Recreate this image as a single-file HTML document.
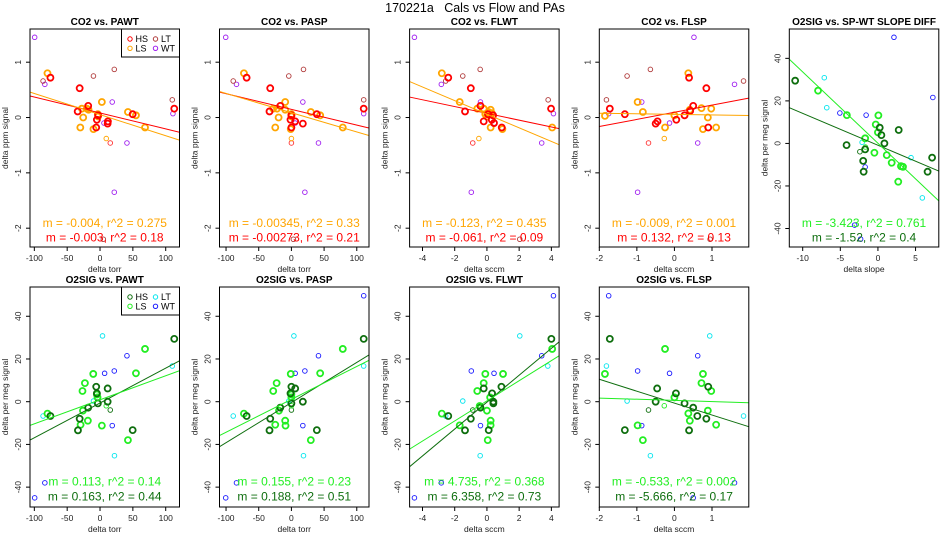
<!DOCTYPE html>
<html><head><meta charset="utf-8"><style>
body{margin:0;background:#fff;}
svg{display:block;font-family:"Liberation Sans",sans-serif;}
</style></head><body>
<svg id="chart" width="950" height="550" viewBox="0 0 950 550" xmlns="http://www.w3.org/2000/svg">
<rect width="950" height="550" fill="#fff"/>
<text x="475" y="12" text-anchor="middle" font-size="12.5" style="white-space:pre" xml:space="preserve">170221a   Cals vs Flow and PAs</text>
</svg>
<script>
// ---- data ----
const co2PawtX=[-99.5,-84,18.6,6,111,41,21.7,-86.7,-10,21.7,110,5,15.6,9.5,-80,2.8,-27.7,-20,-17.5,-25.6,-30,-10,-3.3,-3,42.5,54.7,68.5,-75.5,-31,-34,-18,-4.8,-5.8,12,11.6,49.7,113,-2.8];
const co2PawtY=[1.45,0.6,0.28,-0.1,0.07,-0.46,-1.35,0.66,0.75,0.87,0.32,-2.2,-0.46,-0.38,0.8,0.28,0.16,0.16,0.14,0,-0.18,-0.21,0.06,0.02,0.1,0.04,-0.18,0.72,0.53,0.11,0.21,-0.04,-0.18,-0.07,-0.11,0.06,0.16,0.04];
const co2PawtType=["W","W","W","W","W","W","W","T","T","T","T","T","h","l","L","L","L","L","L","L","L","L","L","L","L","L","L","H","H","H","H","H","H","H","H","H","H","H"];
const co2PaspX=[-100.5,-84,17.5,5.8,110.6,41.4,20.6,-89,-4,18.5,110.6,3,0,0,-72.6,-9.5,-28,-22,-9.5,-19.6,-24.7,-1,0,0,29.7,44,78.6,-68.5,-32.4,-33.5,-17,-1.4,0,5.8,17.5,38.9,110.6,0];
const co2PaspY=co2PawtY.slice();
const co2PaspType=co2PawtType.slice();
const co2FlwtX=[-4.5,-2.83,-0.4,0.46,4.13,3.4,-0.97,-2.56,-1.5,-0.42,3.8,2.04,-0.88,-0.5,-2.8,-1.69,-0.6,-0.2,0.23,0,0.23,0.96,-0.1,0.17,0.1,0.3,4.05,-2.4,-1.0,-1.36,-0.4,0.3,0.92,0.44,-0.2,0.38,3.98,0.07];
const co2FlwtY=[1.45,0.6,0.28,-0.1,0.07,-0.46,-1.35,0.66,0.75,0.87,0.32,-2.2,-0.46,-0.38,0.8,0.28,0.16,0.16,0.14,0.02,-0.18,-0.21,0.06,0.06,0.1,0.08,-0.18,0.72,0.53,0.11,0.21,-0.04,-0.18,-0.1,-0.07,0.04,0.16,0.06];
const co2FlwtType=co2PawtType.slice();
const co2FlspX=[0.52,1.6,-0.87,-0.13,-1.75,0.62,-0.98,-1.26,-0.64,1.84,-1.81,0.95,-0.69,-0.27,0.37,-0.98,0.72,0.98,0.41,0.89,-0.25,0.76,0,-1.85,-0.84,1.11,0.39,0.85,-1.72,0.5,-0.5,-0.45,0.9,0.27,-1.32,0.05,0.42];
const co2FlspY=[1.45,0.6,0.28,-0.1,0.07,-0.46,-1.35,0.75,0.87,0.66,0.32,-2.2,-0.46,-0.38,0.8,0.28,0.17,0.16,0.14,0,-0.18,-0.21,0.04,0.03,0.1,-0.18,0.72,0.53,0.16,0.21,-0.11,-0.07,-0.18,0.04,0.06,-0.04,0.12];
const co2FlspType=["W","W","W","W","W","W","W","T","T","T","T","T","h","l","L","L","L","L","L","L","L","L","L","L","L","L","H","H","H","H","H","H","H","H","H","H","H"];
const o2SlopeX=[2.13,7.3,-5.06,-1.57,-1.7,-3.1,-2.3,-7.13,-6.8,-2.1,4.4,5.9,-2.4,-1.66,-7.96,-4.13,0.06,-0.29,0,-1.7,-0.47,1.17,1.83,3.06,3.33,2.7,-11.0,-4.17,-1.7,-1.96,-1.9,0.24,0.46,0.86,2.76,6.6,7.2];
const o2SlopeY=[49.9,21.6,14.3,13.3,-11.1,-38.4,-45,30.9,16.8,0.5,-6.7,-25.6,-3.9,-1.7,24.8,13.3,13.2,8.9,5.2,2.4,-4.4,-5.5,-9.1,-10.7,-11,-18,29.5,-0.8,-2.8,-8.2,-13.3,7.4,3.9,0,6.3,-13.3,-6.7];
const o2SlopeType=["W","W","W","W","W","W","W","T","T","T","T","T","h","l","L","L","L","L","L","L","L","L","L","L","L","L","H","H","H","H","H","H","H","H","H","H","H"];
const o2PawtX=[-99.5,-84,41,7,21.7,18.6,-86.7,3.8,110,22,-10,15.6,9.5,-80,-10.3,-23,-26.7,-26,-29.6,-18.5,-3.8,2.8,54.7,68.5,42.5,-4.8,-75.5,-31,-33.6,-18,-5.8,-4.8,-3.3,11.6,11.6,49.7,113];
const o2PawtY=[-45,-38,21.5,13.3,14.4,-11.2,-6.7,30.8,16.7,-25.3,0.3,-3.9,-1.9,-5.6,13,8.7,5,-4.2,-10.8,-8.9,2,-11.2,13.3,24.7,-18,3.4,-6.7,-8,-13.4,-2.8,7,3.9,-0.8,6.2,0,-13.3,29.4];
const o2PawtType=["W","W","W","W","W","W","T","T","T","T","T","h","l","L","L","L","L","L","L","L","L","L","L","L","L","L","H","H","H","H","H","H","H","H","H","H","H"];
const o2PaspX=[-100.5,-84,41.4,5.8,20.6,17.5,110.6,-89,3.8,110.6,18.5,-4,0,0,-72.6,-1,-22.6,-27.8,-19,-24.7,-9.5,0,-9,44,78.6,29.7,0,-68.5,-32.4,-33.5,-17,0,-1.4,0,5.8,17.5,38.9,110.6];
const o2PaspY=[-45,-38,21.5,13.3,14.4,-11.2,49.6,-6.7,30.8,16.7,-25.3,0.3,-3.9,-1.9,-5.6,13,8.7,5,-4.2,-10.8,-8.9,2,-11.2,13.3,24.7,-18,3.4,-6.7,-8,-13.4,-2.8,7,3.9,-0.8,6.2,0,-13.3,29.4];
const o2PaspType=["W","W","W","W","W","W","W","T","T","T","T","T","h","l","L","L","L","L","L","L","L","L","L","L","L","L","L","H","H","H","H","H","H","H","H","H","H","H"];
const o2FlwtX=[-4.5,-2.83,3.4,0.44,-0.97,-0.4,4.13,-2.56,2.04,3.78,-0.42,-1.5,-0.88,-0.5,-2.8,-0.1,-0.2,-0.6,-0.45,-1.69,0.23,0.2,0.23,1.0,4.05,0.05,0,-2.4,-1.0,-1.36,-0.4,0.9,0.32,0.4,-0.2,0.4,0.11,4.0];
const o2FlwtY=[-45,-38,21.5,13.3,14.4,-11.2,49.6,-6.7,30.8,16.7,-25.3,0.3,-3.9,-1.9,-5.6,13,8.7,5,-2,-11.1,-8.9,2,-11,13,24.7,-18,-4.2,-6.7,-8,-13.4,-2.8,7,3.9,-0.8,6.2,0,-13.3,29.4];
const o2FlwtType=o2PaspType.slice();
const o2FlspX=[0.5,1.6,0.62,-0.13,-0.98,-0.87,-1.75,1.84,0.94,-1.81,-0.64,-1.26,-0.69,-0.27,-1.85,-0.25,0.72,0.98,0.89,1.11,0.41,0,-0.98,0.76,-0.84,0.37,-1.72,-1.32,-0.46,-0.5,0.04,0.27,0.5,0.61,0.85,0.9,0.39];
const o2FlspY=[-45,-38,21.5,13.3,14.4,-11.2,49.6,-6.7,30.8,16.7,-25.3,0.3,-3.9,-1.9,13,24.7,8.7,5,-4.2,-10.8,-8.9,2,-11.1,13,-18,-5.5,29.4,-13.3,6.2,0,3.9,-0.8,-2.8,-6.7,-8,7,-13.4];
const o2FlspType=["W","W","W","W","W","W","W","T","T","T","T","T","h","l","L","L","L","L","L","L","L","L","L","L","L","L","H","H","H","H","H","H","H","H","H","H","H"];
// fit lines [HS, LS]
const co2PawtSlope=[-0.00288,-0.00382], co2PawtIntercept=[0.083,0.053];
const co2PaspSlope=[-0.00284,-0.00348], co2PaspIntercept=[0.147,0.087];
const co2FlwtSlope=[-0.0614,-0.123], co2FlwtIntercept=[0.075,0.06];
const co2FlspSlope=[0.129,-0.0106], co2FlspIntercept=[0.095,0.057];
const o2SlopeSlope=[-1.5,-3.35], o2SlopeIntercept=[-0.86,0.1];
const o2PawtSlope=[0.163,0.1125], o2PawtIntercept=[-0.6,0.9];
const o2PaspSlope=[0.188,0.154], o2PaspIntercept=[-0.4,1.1];
const o2FlwtSlope=[6.30,4.71], o2FlwtIntercept=[-0.2,0.4];
const o2FlspSlope=[-5.58,-0.55], o2FlspIntercept=[-0.66,0.6];
const torrTicks=[-100,-50,0,50,100], sccmWtTicks=[-4,-2,0,2,4], sccmSpTicks=[-2,-1,0,1], slopeTicks=[-10,-5,0,5];
const co2Ticks=[-2,-1,0,1], o2Ticks=[-40,-20,0,20,40];

// ---- rendering ----
const NS="http://www.w3.org/2000/svg";
const svg=document.getElementById('chart');
function mk(tag,attrs,parent){const e=document.createElementNS(NS,tag);for(const k in attrs)e.setAttribute(k,attrs[k]);(parent||svg).appendChild(e);return e;}
const topColors={H:"#ff0000",h:"#ff3333",L:"#ffa500",l:"#ffa500",T:"#b03a3a",W:"#a020f0"};
const botColors={H:"#0e6e0e",h:"#0e6e0e",L:"#22ee22",l:"#22ee22",T:"#00e5ee",W:"#1a1aff"};
const colLeft=[30,219.5,409.6,599.3,789.3], boxW=149.5;
const panels=[
 {name:"co2-vs-pawt",title:"CO2 vs. PAWT",col:0,row:0,xd:[-106.6,121],yd:[-2.34,1.6],x:co2PawtX,y:co2PawtY,t:co2PawtType,s:co2PawtSlope,b:co2PawtIntercept,xt:torrTicks,yt:co2Ticks,xl:"delta torr",yl:"delta ppm signal",ann:["m = -0.003, r^2 = 0.18","m = -0.004, r^2 = 0.275"],leg:true},
 {name:"co2-vs-pasp",title:"CO2 vs. PASP",col:1,row:0,xd:[-110,118.7],yd:[-2.34,1.6],x:co2PaspX,y:co2PaspY,t:co2PaspType,s:co2PaspSlope,b:co2PaspIntercept,xt:torrTicks,yt:co2Ticks,xl:"delta torr",yl:"delta ppm signal",ann:["m = -0.00273, r^2 = 0.21","m = -0.00345, r^2 = 0.33"]},
 {name:"co2-vs-flwt",title:"CO2 vs. FLWT",col:2,row:0,xd:[-4.8,4.48],yd:[-2.34,1.6],x:co2FlwtX,y:co2FlwtY,t:co2FlwtType,s:co2FlwtSlope,b:co2FlwtIntercept,xt:sccmWtTicks,yt:co2Ticks,xl:"delta sccm",yl:"delta ppm signal",ann:["m = -0.061, r^2 = 0.09","m = -0.123, r^2 = 0.435"]},
 {name:"co2-vs-flsp",title:"CO2 vs. FLSP",col:3,row:0,xd:[-2.0,1.98],yd:[-2.34,1.6],x:co2FlspX,y:co2FlspY,t:co2FlspType,s:co2FlspSlope,b:co2FlspIntercept,xt:sccmSpTicks,yt:co2Ticks,xl:"delta sccm",yl:"delta ppm signal",ann:["m = 0.132, r^2 = 0.13","m = -0.009, r^2 = 0.001"]},
 {name:"o2sig-vs-slope-diff",title:"O2SIG vs. SP-WT SLOPE DIFF",col:4,row:0,bot:true,xd:[-11.78,8.09],yd:[-48.7,53.8],x:o2SlopeX,y:o2SlopeY,t:o2SlopeType,s:o2SlopeSlope,b:o2SlopeIntercept,xt:slopeTicks,yt:o2Ticks,xl:"delta slope",yl:"delta per meg signal",ann:["m = -1.52, r^2 = 0.4","m = -3.423, r^2 = 0.761"]},
 {name:"o2sig-vs-pawt",title:"O2SIG vs. PAWT",col:0,row:1,bot:true,xd:[-106.6,121],yd:[-49.3,53.7],x:o2PawtX,y:o2PawtY,t:o2PawtType,s:o2PawtSlope,b:o2PawtIntercept,xt:torrTicks,yt:o2Ticks,xl:"delta torr",yl:"delta per meg signal",ann:["m = 0.163, r^2 = 0.44","m = 0.113, r^2 = 0.14"],leg:true},
 {name:"o2sig-vs-pasp",title:"O2SIG vs. PASP",col:1,row:1,bot:true,xd:[-110,118.7],yd:[-49.3,53.7],x:o2PaspX,y:o2PaspY,t:o2PaspType,s:o2PaspSlope,b:o2PaspIntercept,xt:torrTicks,yt:o2Ticks,xl:"delta torr",yl:"delta per meg signal",ann:["m = 0.188, r^2 = 0.51","m = 0.155, r^2 = 0.23"]},
 {name:"o2sig-vs-flwt",title:"O2SIG vs. FLWT",col:2,row:1,bot:true,xd:[-4.8,4.48],yd:[-49.3,53.7],x:o2FlwtX,y:o2FlwtY,t:o2FlwtType,s:o2FlwtSlope,b:o2FlwtIntercept,xt:sccmWtTicks,yt:o2Ticks,xl:"delta sccm",yl:"delta per meg signal",ann:["m = 6.358, r^2 = 0.73","m = 4.735, r^2 = 0.368"]},
 {name:"o2sig-vs-flsp",title:"O2SIG vs. FLSP",col:3,row:1,bot:true,xd:[-2.0,1.98],yd:[-49.3,53.7],x:o2FlspX,y:o2FlspY,t:o2FlspType,s:o2FlspSlope,b:o2FlspIntercept,xt:sccmSpTicks,yt:o2Ticks,xl:"delta sccm",yl:"delta per meg signal",ann:["m = -5.666, r^2 = 0.17","m = -0.533, r^2 = 0.002"]}
];
panels.forEach((p,pi)=>{
 const L=colLeft[p.col], T=p.row?287:29, B=p.row?507:247, R=L+boxW;
 const cols=p.bot?botColors:topColors;
 const sx=v=>L+(v-p.xd[0])/(p.xd[1]-p.xd[0])*(R-L);
 const sy=v=>B-(v-p.yd[0])/(p.yd[1]-p.yd[0])*(B-T);
 const g=mk('g',{});
 
 
 const cp=mk('clipPath',{id:'cp'+pi},g);mk('rect',{x:L,y:T,width:R-L,height:B-T},cp);
 const title=mk('text',{x:(L+R)/2,y:T-4,'text-anchor':'middle','font-size':'10','font-weight':'bold'},g);
 title.textContent=p.title;
 
 
 const pts=mk('g',{'clip-path':'url(#cp'+pi+')'},g);
 
 
 p.x.forEach((xv,i)=>{
  const ty=p.t[i], thick=(ty==='H'||ty==='L');
  const c=mk('circle',{cx:sx(xv),cy:sy(p.y[i]),r:thick?3:2.3,fill:'none',stroke:cols[ty],'stroke-width':thick?1.8:0.9},pts);
  
  
 });
 const lcol=[cols.H,cols.L];
 p.s.forEach((m,k)=>{
  const x0=p.xd[0],x1=p.xd[1];
  const ln=mk('line',{x1:sx(x0),y1:sy(m*x0+p.b[k]),x2:sx(x1),y2:sy(m*x1+p.b[k]),stroke:lcol[k],'stroke-width':1,'clip-path':'url(#cp'+pi+')'},g);
  
  
 });
 const aY=p.row?[496,481]:[237,222.7];
 p.ann.forEach((s,k)=>{
  const a=mk('text',{x:(L+R)/2,y:aY[k]+4.5,'text-anchor':'middle','font-size':'12',fill:lcol[k]},g);
  a.textContent=s;
  
  
 });
 const box=mk('rect',{x:L,y:T,width:R-L,height:B-T,fill:'none',stroke:'#000','stroke-width':1},g);
 
 
 p.xt.forEach(v=>{
  const X=sx(v);
  mk('line',{x1:X,y1:B,x2:X,y2:B+4,stroke:'#000','stroke-width':1},g);
  const t=mk('text',{x:X,y:B+14,'text-anchor':'middle','font-size':'8.5',fill:'#222'},g);
  t.textContent=v;
  
  
 });
 mk('line',{x1:sx(p.xt[0]),y1:B,x2:sx(p.xt[p.xt.length-1]),y2:B,stroke:'#000'},g);
 const xl=mk('text',{x:(L+R)/2,y:B+25,'text-anchor':'middle','font-size':'8.5',fill:'#222'},g);
 xl.textContent=p.xl;
 
 
 p.yt.forEach(v=>{
  const Y=sy(v);
  mk('line',{x1:L-4,y1:Y,x2:L,y2:Y,stroke:'#000','stroke-width':1},g);
  const t=mk('text',{x:L-9,y:Y,'text-anchor':'middle','font-size':'8.5',fill:'#222',transform:`rotate(-90 ${L-9} ${Y})`},g);
  t.textContent=v;
  
  
 });
 const yl=mk('text',{x:L-22,y:(T+B)/2,'text-anchor':'middle','font-size':'8.5',fill:'#222',transform:`rotate(-90 ${L-22} ${(T+B)/2})`},g);
 yl.textContent=p.yl;
 
 
 if(p.leg){
  const lg=mk('g',{},g);
  
  
  mk('rect',{x:R-58,y:T,width:58,height:28,fill:'#fff',stroke:'#000','stroke-width':1},lg);
  [["HS","H",0,0],["LS","L",0,1],["LT","T",1,0],["WT","W",1,1]].forEach(e=>{
   const cx=R-49.5+e[2]*25.5, cy=T+10+e[3]*9.3;
   mk('circle',{cx:cx,cy:cy,r:2.2,fill:'none',stroke:cols[e[1]],'stroke-width':1},lg);
   const t=mk('text',{x:cx+5.5,y:cy+3.2,'font-size':'9'},lg);
   t.textContent=e[0];
   
   
  });
 }
});
</script>
</body></html>
